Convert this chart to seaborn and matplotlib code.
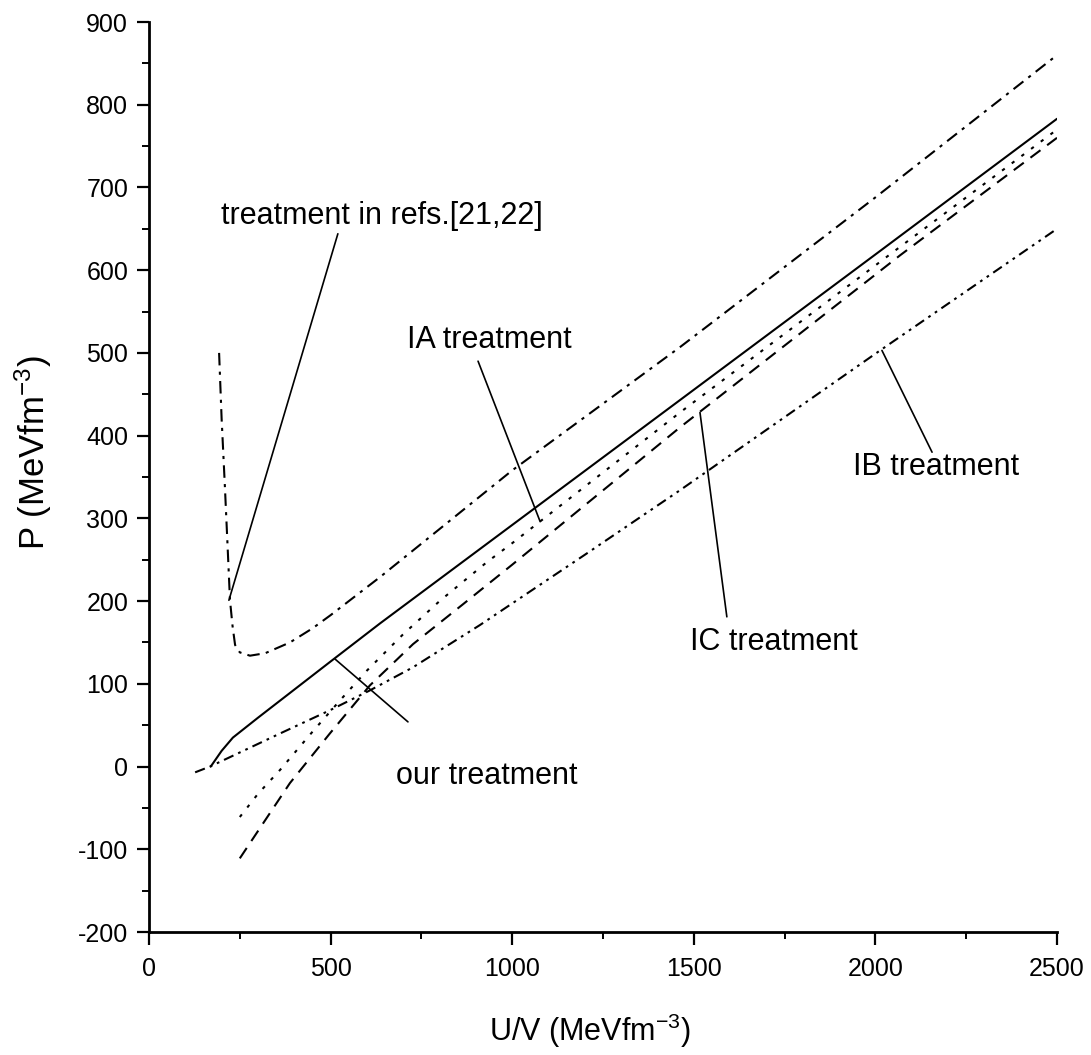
import matplotlib
matplotlib.use("Agg")
import matplotlib.pyplot as plt
import seaborn as sns
import numpy as np
from matplotlib.ticker import MultipleLocator

# ---- data ----
our_x = [170, 200, 231, 300, 500, 636, 1000, 1462, 2000, 2500]
our_y = [0, 19, 35, 59, 127, 173, 292, 443, 619, 783]

refs_x = [193, 200, 209, 216, 223, 230, 237, 250, 278, 320, 388, 450, 500, 636, 1000, 1462, 2000, 2500]
refs_y = [500, 420, 338, 270, 201, 170, 147, 138, 134, 137, 150, 167, 183, 229, 358, 507, 688, 860]

ia_x = [250, 300, 361, 450, 526, 600, 700, 800, 930, 1000, 1462, 2049, 2500]
ia_y = [-61, -33, -4, 42, 80, 116, 160, 200, 247, 270, 428, 622, 770]

ic_x = [250, 300, 388, 498, 608, 727, 864, 1000, 1462, 2068, 2500]
ic_y = [-111, -78, -20, 40, 98, 148, 196, 244, 410, 618, 760]

ib_x = [127, 168, 250, 361, 498, 608, 727, 911, 1200, 1462, 2013, 2288, 2500]
ib_y = [-7, 0, 17, 40, 68, 92, 120, 171, 256, 334, 503, 586, 650]

labels = ["treatment in refs.[21,22]", "IA treatment", "IB treatment", "IC treatment", "our treatment"]
label_pos = [(641, 665), (936, 515), (2167, 362), (1721, 151), (931, -11)]
pointer_from = [(520, 644), (906, 490), (2156, 380), (1591, 181), (713, 54)]
pointer_to = [(220, 201), (1077, 296), (2018, 503), (1517, 428), (512, 130)]

x_ticks = [0, 500, 1000, 1500, 2000, 2500]
y_ticks = [-200, -100, 0, 100, 200, 300, 400, 500, 600, 700, 800, 900]

# ---- style ----
sns.set_theme(style="ticks")
plt.rcParams["font.family"] = ["Liberation Sans", "DejaVu Sans"]
plt.rcParams["mathtext.fontset"] = "custom"
plt.rcParams["mathtext.rm"] = "Liberation Sans"
plt.rcParams["mathtext.it"] = "Liberation Sans"
plt.rcParams["mathtext.default"] = "regular"
plt.rcParams["axes.unicode_minus"] = False
plt.rcParams["text.color"] = "black"
plt.rcParams["axes.labelcolor"] = "black"
plt.rcParams["xtick.color"] = "black"
plt.rcParams["ytick.color"] = "black"

fig = plt.figure(figsize=(10.91, 10.55), dpi=100)
ax = fig.add_axes([149 / 1091, 1 - 932 / 1055, 908 / 1091, 910 / 1055])

lw = 1.5
sns.lineplot(x=our_x, y=our_y, ax=ax, color="black", lw=lw, sort=False, estimator=None)
sns.lineplot(x=refs_x, y=refs_y, ax=ax, color="black", lw=lw, sort=False, estimator=None,
             linestyle=(0, (6, 3, 1.5, 3)))
sns.lineplot(x=ia_x, y=ia_y, ax=ax, color="black", lw=lw, sort=False, estimator=None,
             linestyle=(0, (1.6, 4.2)))
sns.lineplot(x=ic_x, y=ic_y, ax=ax, color="black", lw=lw, sort=False, estimator=None,
             linestyle=(0, (6, 4)))
sns.lineplot(x=ib_x, y=ib_y, ax=ax, color="black", lw=lw, sort=False, estimator=None,
             linestyle=(0, (5, 2.5, 1.3, 2.5, 1.3, 2.5)))

for txt, pos, p0, p1 in zip(labels, label_pos, pointer_from, pointer_to):
    ax.text(pos[0], pos[1], txt, ha="center", va="center", fontsize=22, color="black")
    ax.annotate("", xy=p1, xytext=p0,
                arrowprops=dict(arrowstyle="-", lw=1.2, color="black",
                                shrinkA=0, shrinkB=0))

ax.set_xlim(0, 2500)
ax.set_ylim(-200, 900)
ax.set_xticks(x_ticks)
ax.set_yticks(y_ticks)
ax.xaxis.set_minor_locator(MultipleLocator(250))
ax.yaxis.set_minor_locator(MultipleLocator(50))
ax.tick_params(axis="both", which="major", direction="out", length=9, width=1.6,
               color="black", labelcolor="black", pad=6)
ax.tick_params(axis="both", which="minor", direction="out", length=5, width=1.4,
               color="black")
ax.tick_params(axis="y", labelsize=18)
ax.tick_params(axis="x", labelsize=18, pad=9)

for s in ["top", "right"]:
    ax.spines[s].set_visible(False)
for s in ["left", "bottom"]:
    ax.spines[s].set_linewidth(2)
    ax.spines[s].set_color("black")

ax.set_xlabel("U/V (MeVfm$^{-3}$)", fontsize=22, color="black")
ax.set_ylabel("P (MeVfm$^{-3}$)", fontsize=25, color="black")
ax.xaxis.set_label_coords(0.486, -0.088)
ax.yaxis.set_label_coords(-0.105, 0.527)
ax.patch.set_facecolor("white")
fig.patch.set_facecolor("white")

fig.savefig("out.png", dpi=100, facecolor="white")
